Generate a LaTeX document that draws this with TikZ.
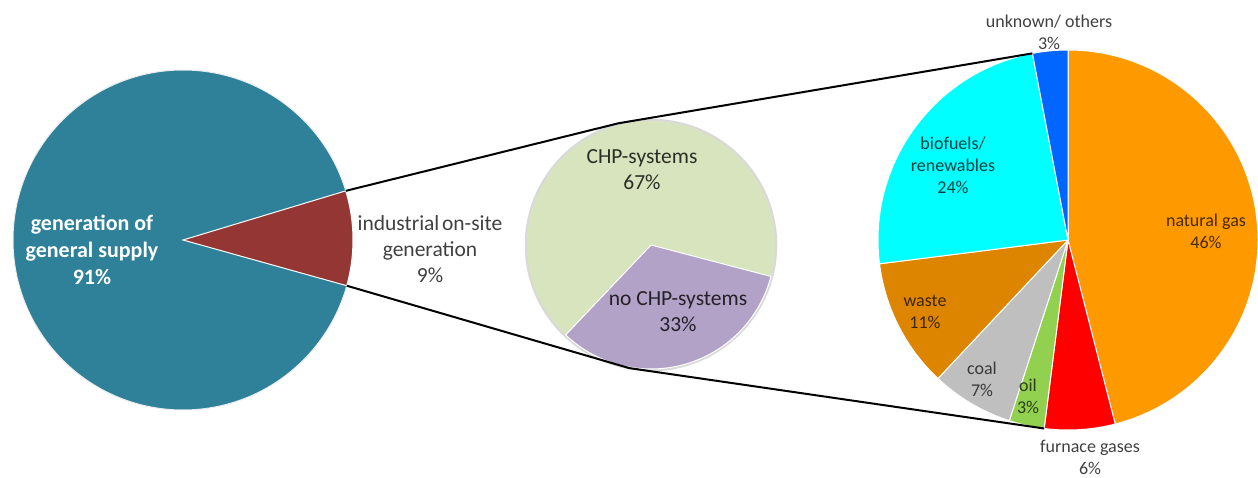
\documentclass[tikz,border=0pt]{standalone}
\usepackage{fontspec}
\setmainfont{Carlito}
\usetikzlibrary{calc}
\definecolor{cteal}{RGB}{46,129,153}
\definecolor{cdred}{RGB}{147,54,52}
\definecolor{clgreen}{RGB}{215,228,189}
\definecolor{cpurple}{RGB}{179,162,199}
\definecolor{corange}{RGB}{255,153,0}
\definecolor{cred}{RGB}{255,0,0}
\definecolor{coil}{RGB}{146,208,80}
\definecolor{ccoal}{RGB}{191,191,191}
\definecolor{cwaste}{RGB}{222,133,0}
\definecolor{ccyan}{RGB}{0,255,255}
\definecolor{cblue}{RGB}{0,102,255}
\definecolor{ctext}{RGB}{64,64,64}
\begin{document}
\begin{tikzpicture}[x=1pt,y=1pt,
  slice/.style={draw=white,line width=1pt},
  conn/.style={draw=black,line width=2pt,line join=round},
  lblL/.style={align=center,inner sep=0,text=white,font=\fontsize{22}{27}\selectfont\bfseries},
  lblM/.style={align=center,inner sep=0,font=\fontsize{21.5}{26}\selectfont},
  lblR/.style={align=center,inner sep=0,font=\fontsize{18}{22}\selectfont}]
\useasboundingbox (0,0) rectangle (1258,477);
% centres
\coordinate (Lc) at (183,237);
\coordinate (Mc) at (651,232);
\coordinate (Rc) at (1068,237);
% left pie
\fill[cteal,draw=gray!15,line width=1pt] (Lc) circle (170);
\filldraw[slice,fill=cdred] (Lc) -- ($(Lc)+(-15.6:170)$) arc[start angle=-15.6,end angle=16.8,radius=170] -- cycle;
% middle pie
\draw[gray!30,line width=2.5pt] (Mc) circle (125);
\fill[clgreen] (Mc) circle (124);
\filldraw[slice,fill=cpurple] (Mc) -- ($(Mc)+(-133.5:124)$) arc[start angle=-133.5,end angle=-14.7,radius=124] -- cycle;
% right pie
\filldraw[slice,fill=corange] (Rc) -- ($(Rc)+(90:190)$) arc[start angle=90,end angle=-75.6,radius=190] -- cycle;
\filldraw[slice,fill=cred] (Rc) -- ($(Rc)+(-75.6:190)$) arc[start angle=-75.6,end angle=-97.2,radius=190] -- cycle;
\filldraw[slice,fill=coil] (Rc) -- ($(Rc)+(-97.2:190)$) arc[start angle=-97.2,end angle=-108,radius=190] -- cycle;
\filldraw[slice,fill=ccoal] (Rc) -- ($(Rc)+(-108:190)$) arc[start angle=-108,end angle=-133.2,radius=190] -- cycle;
\filldraw[slice,fill=cwaste] (Rc) -- ($(Rc)+(-133.2:190)$) arc[start angle=-133.2,end angle=-172.8,radius=190] -- cycle;
\filldraw[slice,fill=ccyan] (Rc) -- ($(Rc)+(-172.8:190)$) arc[start angle=-172.8,end angle=-259.2,radius=190] -- cycle;
\filldraw[slice,fill=cblue] (Rc) -- ($(Rc)+(-259.2:190)$) arc[start angle=-259.2,end angle=-270,radius=190] -- cycle;
% connector points
\coordinate (Lt) at ($(Lc)+(16.8:170)$);
\coordinate (Lb) at ($(Lc)+(-15.6:170)$);
\coordinate (Mt) at ($(Mc)+(105:126)$);
\coordinate (Mb) at ($(Mc)+(-100:125)$);
\coordinate (Rt) at ($(Rc)+(100.8:190)$);
\coordinate (Rb) at ($(Rc)+(-97.2:190)$);
\draw[conn] (Lt) -- (Mt) -- (Rt);
\draw[conn] (Lb) -- (Mb) -- (Rb);
% labels
\node[lblL] (gen) at (92,227) {generation of\\general supply\\91\%};
\node[lblM,text=ctext] (ind) at (430,228) {industrial\hspace{-0.1em} on-site\\generation\\9\%};
\node[lblM,text=black!80!clgreen] (chp) at (642,307) {CHP-systems\\67\%};
\node[lblM,text=black!80!cpurple] (nochp) at (678,165) {no CHP-systems\\33\%};
\node[lblR,text=ctext] (unk) at (1049,445) {unknown/ others\\3\%};
\node[lblR,text=black!75!ccyan] (bio) at (953,312) {biofuels/\\renewables\\24\%};
\node[lblR,text=black!72!corange] (ng) at (1206,246) {natural gas\\46\%};
\node[lblR,text=black!72!cwaste] (waste) at (925,165) {waste\\11\%};
\node[lblR,text=black!70!ccoal] (coal) at (982,98) {coal\\7\%};
\node[lblR,text=black!70!coil] (oil) at (1028,81) {oil\\3\%};
\node[lblR,text=ctext] (furn) at (1090,20) {furnace gases\\6\%};
\end{tikzpicture}
\end{document}
